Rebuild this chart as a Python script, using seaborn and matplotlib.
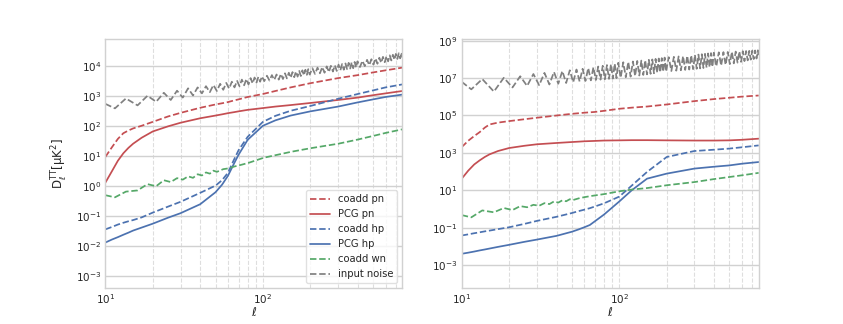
import matplotlib
matplotlib.use("Agg")
import matplotlib.pyplot as plt
import matplotlib.ticker as mticker
import numpy as np
import seaborn as sns

# multipoles shared by the smooth spectra
ell = [10, 11, 12, 13, 14, 15, 17, 20, 25, 30, 40, 50, 55, 60, 65, 70, 80,
       100, 120, 150, 200, 300, 400, 500, 600, 767]

# left panel, log10 D_ell
coadd_pn_1 = [0.98, 1.30, 1.58, 1.77, 1.86, 1.93, 2.02, 2.15, 2.33, 2.45, 2.62, 2.73, 2.77,
              2.81, 2.86, 2.90, 2.98, 3.08, 3.18, 3.30, 3.44, 3.61, 3.71, 3.80, 3.87, 3.96]
pcg_pn_1 = [0.12, 0.50, 0.85, 1.10, 1.28, 1.42, 1.62, 1.83, 2.00, 2.12, 2.27, 2.36, 2.40,
            2.44, 2.47, 2.50, 2.55, 2.61, 2.66, 2.71, 2.78, 2.88, 2.96, 3.04, 3.10, 3.18]
coadd_hp_1 = [-1.44, -1.36, -1.28, -1.22, -1.17, -1.13, -1.04, -0.88, -0.68, -0.52, -0.22, 0.02, 0.20,
              0.45, 0.85, 1.20, 1.65, 2.15, 2.35, 2.52, 2.68, 2.92, 3.08, 3.20, 3.30, 3.40]
pcg_hp_1 = [-1.88, -1.78, -1.70, -1.62, -1.55, -1.48, -1.38, -1.25, -1.05, -0.90, -0.60, -0.20, 0.05,
            0.35, 0.72, 1.05, 1.55, 2.02, 2.20, 2.36, 2.50, 2.66, 2.80, 2.90, 2.98, 3.06]

# right panel, log10 D_ell
coadd_pn_2 = [3.31, 3.65, 3.90, 4.11, 4.35, 4.52, 4.62, 4.70, 4.80, 4.88, 5.00, 5.09, 5.12,
              5.15, 5.17, 5.19, 5.25, 5.36, 5.42, 5.48, 5.59, 5.77, 5.88, 5.95, 6.01, 6.07]
pcg_pn_2 = [1.62, 2.05, 2.38, 2.60, 2.78, 2.92, 3.10, 3.26, 3.38, 3.46, 3.53, 3.58, 3.60,
            3.62, 3.63, 3.64, 3.66, 3.67, 3.68, 3.68, 3.67, 3.66, 3.66, 3.67, 3.70, 3.76]
coadd_hp_2 = [-1.42, -1.36, -1.30, -1.25, -1.20, -1.16, -1.08, -0.98, -0.80, -0.64, -0.42, -0.22, -0.12,
              -0.04, 0.04, 0.13, 0.30, 0.66, 1.25, 1.98, 2.78, 3.10, 3.17, 3.23, 3.30, 3.40]
pcg_hp_2 = [-2.40, -2.34, -2.28, -2.22, -2.17, -2.12, -2.03, -1.92, -1.76, -1.64, -1.44, -1.22, -1.10,
            -0.98, -0.86, -0.66, -0.30, 0.40, 1.00, 1.62, 1.89, 2.16, 2.26, 2.33, 2.42, 2.51]

# white noise coadd (small ripples at low ell)
ell_wn = [10, 11.5, 13.5, 16, 18.5, 21, 23.5, 26, 28.5, 31, 33.5, 36, 38.5, 41, 43.5, 46, 48.5,
          51, 56, 61, 66, 71, 81, 91, 101, 121, 151, 201, 301, 401, 501, 601, 767]
coadd_wn_1 = [-0.30, -0.37, -0.18, -0.14, 0.07, 0.00, 0.20, 0.14, 0.27, 0.22, 0.33, 0.28, 0.40, 0.36,
              0.46, 0.42, 0.52, 0.48, 0.57, 0.60, 0.66, 0.70, 0.78, 0.87, 0.95, 1.04, 1.15, 1.27,
              1.42, 1.56, 1.68, 1.78, 1.90]
coadd_wn_2 = [-0.33, -0.45, -0.08, -0.18, 0.05, -0.06, 0.15, 0.09, 0.22, 0.17, 0.31, 0.26, 0.40, 0.34,
              0.46, 0.41, 0.52, 0.48, 0.58, 0.64, 0.69, 0.73, 0.80, 0.88, 0.95, 1.04, 1.12, 1.27,
              1.44, 1.60, 1.71, 1.80, 1.93]

# input noise: alternating troughs / peaks
ell_noise = [10, 11.5, 13.5, 16, 18.5, 21, 23.5, 26, 28.5, 31, 33.5, 36, 38.5, 41, 43.5, 46, 48.5,
             51, 53.5, 56, 58.5, 61, 63.5, 66, 68.5, 71, 73.5, 76, 78.5, 81, 83.5, 86, 88.5, 91,
             93.5, 96, 98.5,
             102, 106, 110, 114, 118, 122, 126, 130, 134, 138, 142, 146, 150, 154, 158, 162, 166,
             170, 174, 178, 182, 186, 190, 194, 198,
             206, 214, 222, 230, 238, 246, 254, 262, 270, 278, 286, 294, 302, 310, 318, 326, 334,
             342, 350, 358, 366, 374, 382, 390, 398,
             413, 428, 443, 458, 473, 488, 503, 518, 533, 548, 563, 578, 593, 608, 623, 638, 653,
             668, 683, 698, 713, 728, 743, 758, 767]
noise_1 = [2.75, 2.60, 2.93, 2.70, 3.02, 2.82, 3.12, 2.88, 3.19, 2.96, 3.27, 3.03, 3.30, 3.10, 3.34,
           3.14, 3.38, 3.18, 3.42, 3.22, 3.45, 3.26, 3.49, 3.30, 3.52, 3.34, 3.56, 3.37, 3.58, 3.40,
           3.61, 3.43, 3.63, 3.46, 3.65, 3.49, 3.67,
           3.51, 3.69, 3.53, 3.71, 3.55, 3.73, 3.56, 3.75, 3.58, 3.77, 3.60, 3.79, 3.62, 3.81, 3.64,
           3.83, 3.66, 3.85, 3.68, 3.87, 3.70, 3.89, 3.72, 3.91, 3.73,
           3.94, 3.75, 3.96, 3.77, 3.98, 3.79, 4.00, 3.81, 4.02, 3.83, 4.04, 3.85, 4.06, 3.87, 4.08,
           3.89, 4.10, 3.91, 4.12, 3.93, 4.14, 3.94, 4.15, 3.96, 4.17,
           3.98, 4.19, 4.01, 4.22, 4.04, 4.24, 4.06, 4.27, 4.09, 4.29, 4.12, 4.32, 4.14, 4.34, 4.17,
           4.37, 4.20, 4.39, 4.22, 4.42, 4.25, 4.44, 4.27, 4.47, 4.30]
noise_2 = [6.80, 6.40, 6.95, 6.28, 7.02, 6.50, 7.10, 6.58, 7.22, 6.62, 7.28, 6.66, 7.33, 6.70, 7.38,
           6.74, 7.42, 6.78, 7.46, 6.82, 7.50, 6.85, 7.54, 6.88, 7.58, 6.90, 7.62, 6.92, 7.66, 6.94,
           7.70, 6.96, 7.74, 6.98, 7.78, 7.00, 7.82,
           7.02, 7.85, 7.05, 7.87, 7.08, 7.89, 7.11, 7.92, 7.14, 7.94, 7.17, 7.96, 7.20, 7.98, 7.23,
           8.00, 7.26, 8.03, 7.29, 8.05, 7.31, 8.07, 7.34, 8.10, 7.36,
           8.12, 7.38, 8.14, 7.40, 8.16, 7.42, 8.18, 7.44, 8.20, 7.46, 8.22, 7.48, 8.24, 7.50, 8.26,
           7.52, 8.28, 7.54, 8.30, 7.56, 8.32, 7.58, 8.34, 7.60, 8.36,
           7.63, 8.38, 7.67, 8.39, 7.71, 8.40, 7.75, 8.41, 7.79, 8.42, 7.83, 8.43, 7.87, 8.44, 7.91,
           8.45, 7.95, 8.46, 7.99, 8.47, 8.02, 8.48, 8.05, 8.49, 8.08]

ylims = [(10 ** -3.41, 10 ** 4.92), (10 ** -4.25, 10 ** 9.10)]
yticks = [[1e-3, 1e-2, 1e-1, 1e0, 1e1, 1e2, 1e3, 1e4],
          [1e-3, 1e-1, 1e1, 1e3, 1e5, 1e7, 1e9]]
xticks = [10, 100]

sns.set_theme(style="whitegrid")
pal = sns.color_palette("deep")
red, blue, green = pal[3], pal[0], pal[2]

fig, axes = plt.subplots(1, 2, figsize=(8.43, 3.24), dpi=100)

panels = [
    (coadd_pn_1, pcg_pn_1, coadd_hp_1, pcg_hp_1, coadd_wn_1, noise_1),
    (coadd_pn_2, pcg_pn_2, coadd_hp_2, pcg_hp_2, coadd_wn_2, noise_2),
]

for i, (ax, data) in enumerate(zip(axes, panels)):
    cpn, ppn, chp, php, cwn, nz = data
    kw = dict(ax=ax, linewidth=1.25, estimator=None, sort=False)
    sns.lineplot(x=ell, y=10 ** np.array(cpn), color=red, linestyle="--", label="coadd pn", **kw)
    sns.lineplot(x=ell, y=10 ** np.array(ppn), color=red, linestyle="-", label="PCG pn", **kw)
    sns.lineplot(x=ell, y=10 ** np.array(chp), color=blue, linestyle="--", label="coadd hp", **kw)
    sns.lineplot(x=ell, y=10 ** np.array(php), color=blue, linestyle="-", label="PCG hp", **kw)
    sns.lineplot(x=ell_wn, y=10 ** np.array(cwn), color=green, linestyle="--", label="coadd wn", **kw)
    sns.lineplot(x=ell_noise, y=10 ** np.array(nz), color="gray", linestyle="--",
                 label="input noise", **kw)

    ax.set_xscale("log")
    ax.set_yscale("log")
    ax.set_xlim(10, 767)
    ax.set_ylim(*ylims[i])
    ax.xaxis.set_major_locator(mticker.FixedLocator(xticks))
    ax.yaxis.set_major_locator(mticker.FixedLocator(yticks[i]))
    ax.xaxis.set_major_formatter(mticker.LogFormatterSciNotation())
    ax.yaxis.set_major_formatter(mticker.LogFormatterSciNotation())
    ax.xaxis.set_minor_locator(mticker.FixedLocator(
        [20, 30, 40, 50, 60, 70, 80, 90, 200, 300, 400, 500, 600, 700]))
    ax.yaxis.set_minor_locator(mticker.NullLocator())
    ax.xaxis.set_minor_formatter(mticker.NullFormatter())
    ax.grid(False)
    ax.grid(True, which="major", axis="y", color="0.82", linewidth=1.0)
    ax.grid(True, which="both", axis="x", color="0.87", linestyle="--", linewidth=0.8)
    ax.tick_params(axis="both", which="both", labelsize=7.5, length=0, pad=3)
    ax.set_xlabel(r"$\ell$", fontsize=8.5, labelpad=0)
    for s in ax.spines.values():
        s.set_color("0.82")
        s.set_linewidth(1.0)

    if i == 0:
        ax.set_ylabel(r"$\mathrm{D}_\ell^{\mathrm{TT}}[\mathrm{\mu K}^2]$", fontsize=8.5)
        leg = ax.legend(loc="lower right", fontsize=7.2, frameon=True, handlelength=2.0)
        leg.get_frame().set_edgecolor("0.85")
    else:
        ax.get_legend().remove()
        ax.set_ylabel("")

fig.savefig("out.png", dpi=100)
